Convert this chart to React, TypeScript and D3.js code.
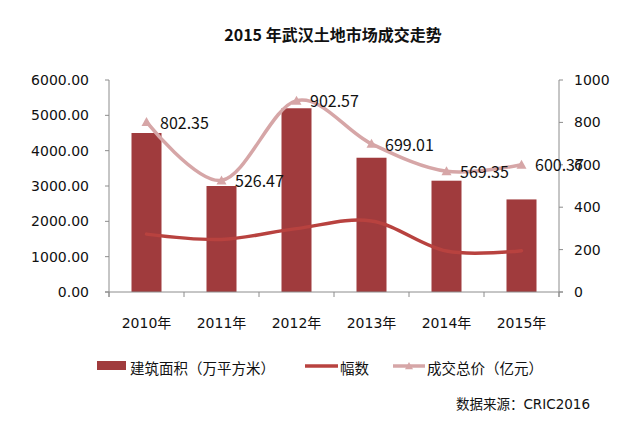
import React from "react";
import * as d3 from "d3";

const categories = ["2010年", "2011年", "2012年", "2013年", "2014年", "2015年"];
const areaValues = [4500, 3000, 5200, 3800, 3150, 2620];
const rateValues = [273, 248, 299, 335, 193, 195];
const totalValues = [802.35, 526.47, 902.57, 699.01, 569.35, 600.37];
const leftTicks = [0, 1000, 2000, 3000, 4000, 5000, 6000];
const rightTicks = [0, 200, 400, 600, 800, 1000];
const title = "2015 年武汉土地市场成交走势";
const legendLabels = ["建筑面积（万平方米）", "幅数", "成交总价（亿元）"];
const source = "数据来源：CRIC2016";

const W = 633;
const H = 432;
const plotLeft = 109;
const plotRight = 559;
const plotTop = 80;
const plotBottom = 292;

const barColor = "#A03B3D";
const redLine = "#B8423F";
const pinkLine = "#D6A6A7";
const axisColor = "#8C8C8C";
const axisFont = "'DejaVu Sans', 'Noto Sans CJK SC', sans-serif";
const cjkFont = "'Noto Sans CJK SC', sans-serif";

export default function App() {
  const x = d3.scaleBand<string>().domain(categories).range([plotLeft, plotRight]).padding(0);
  const yL = d3.scaleLinear().domain([0, 6000]).range([plotBottom, plotTop]);
  const yR = d3.scaleLinear().domain([0, 1000]).range([plotBottom, plotTop]);
  const bw = x.bandwidth();
  const barW = bw * 0.4;
  const cx = (c: string) => (x(c) as number) + bw / 2;

  const lineGen = d3
    .line<number>()
    .x((_, i) => cx(categories[i]))
    .y((v) => yR(v))
    .curve(d3.curveCardinal.tension(0));

  const tri = (px: number, py: number, s = 5) =>
    `M${px},${py - s} L${px + s},${py + s * 0.8} L${px - s},${py + s * 0.8} Z`;

  const boundaries = categories.map((c) => x(c) as number).concat([plotRight]);

  return (
    <svg
      width={W}
      height={H}
      style={{ position: "absolute", left: 0, top: 0, background: "#fff" }}
    >
      <rect x={0} y={0} width={W} height={H} fill="#fff" />
      <text
        x={333}
        y={41}
        textAnchor="middle"
        fontFamily={cjkFont}
        fontWeight="bold"
        fontSize={16}
        fill="#111"
      >
        {title}
      </text>

      {/* bars */}
      {categories.map((c, i) => (
        <rect
          key={c}
          x={cx(c) - barW / 2}
          y={yL(areaValues[i])}
          width={barW}
          height={plotBottom - yL(areaValues[i])}
          fill={barColor}
        />
      ))}

      {/* axes */}
      <line x1={plotLeft} y1={plotTop} x2={plotLeft} y2={plotBottom + 5} stroke={axisColor} />
      <line x1={plotRight} y1={plotTop} x2={plotRight} y2={plotBottom + 5} stroke={axisColor} />
      <line x1={plotLeft - 4} y1={plotBottom} x2={plotRight + 4} y2={plotBottom} stroke={axisColor} />
      {leftTicks.map((t) => (
        <g key={"l" + t}>
          <line x1={plotLeft - 4} x2={plotLeft} y1={yL(t)} y2={yL(t)} stroke={axisColor} />
          <text
            x={89}
            y={yL(t)}
            dy="0.36em"
            textAnchor="end"
            fontFamily={axisFont}
            fontSize={14}
            fill="#111"
          >
            {t.toFixed(2)}
          </text>
        </g>
      ))}
      {rightTicks.map((t) => (
        <g key={"r" + t}>
          <line x1={plotRight} x2={plotRight + 4} y1={yR(t)} y2={yR(t)} stroke={axisColor} />
          <text
            x={574}
            y={yR(t)}
            dy="0.36em"
            textAnchor="start"
            fontFamily={axisFont}
            fontSize={14}
            fill="#111"
          >
            {t}
          </text>
        </g>
      ))}
      {boundaries.map((b, i) => (
        <line key={"b" + i} x1={b} x2={b} y1={plotBottom} y2={plotBottom + 5} stroke={axisColor} />
      ))}
      {categories.map((c) => (
        <text
          key={"x" + c}
          x={cx(c)}
          y={328}
          textAnchor="middle"
          fontFamily={axisFont}
          fontSize={14}
          fill="#111"
        >
          {c}
        </text>
      ))}

      {/* lines */}
      <path d={lineGen(rateValues) || ""} fill="none" stroke={redLine} strokeWidth={3.5} strokeLinecap="round" />
      <path d={lineGen(totalValues) || ""} fill="none" stroke={pinkLine} strokeWidth={3.5} strokeLinecap="round" />
      {totalValues.map((v, i) => (
        <path key={"m" + i} d={tri(cx(categories[i]), yR(v))} fill={pinkLine} />
      ))}
      {totalValues.map((v, i) => (
        <text
          key={"dl" + i}
          x={cx(categories[i]) + 13.5}
          y={yR(v) + 1}
          dy="0.36em"
          fontFamily={cjkFont}
          fontSize={16}
          fill="#111"
        >
          {v.toFixed(2)}
        </text>
      ))}

      {/* legend */}
      <rect x={97} y={361} width={29} height={9} fill={barColor} />
      <text x={130} y={374} fontFamily={cjkFont} fontSize={14.5} fill="#111">
        {legendLabels[0]}
      </text>
      <line x1={305} x2={338} y1={366} y2={366} stroke={redLine} strokeWidth={3.5} />
      <text x={340} y={374} fontFamily={cjkFont} fontSize={14.5} fill="#111">
        {legendLabels[1]}
      </text>
      <line x1={393} x2={425} y1={366} y2={366} stroke={pinkLine} strokeWidth={3.5} />
      <path d={tri(409, 366, 4)} fill={pinkLine} />
      <text x={427} y={374} fontFamily={cjkFont} fontSize={14.5} fill="#111">
        {legendLabels[2]}
      </text>

      <text x={590} y={409} textAnchor="end" fontFamily={axisFont} fontSize={13.5} fill="#111">
        {source}
      </text>
    </svg>
  );
}
